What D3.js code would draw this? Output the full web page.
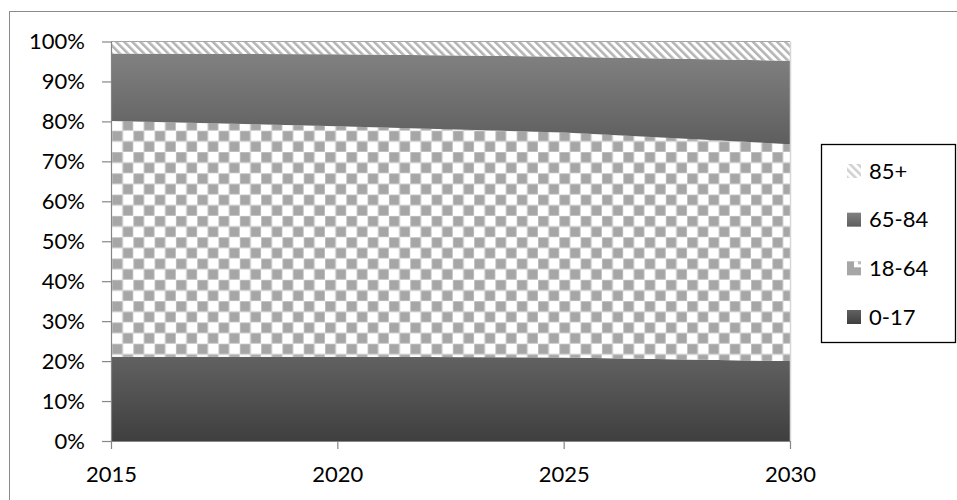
<!DOCTYPE html>
<html>
<head>
<meta charset="utf-8">
<script src="https://cdn.jsdelivr.net/npm/d3@7"></script>
<style>
  html, body { margin: 0; padding: 0; background: #fff; }
  svg { display: block; font-family: Lato, "Open Sans", sans-serif; }
</style>
</head>
<body>
<svg id="chart" width="957" height="500"></svg>
<script>
// ---- data (percent of population) ----
const years = [2015, 2020, 2025, 2030];
const age0_17  = [21.1, 21.1, 20.9, 20.0];
const age18_64 = [59.0, 57.7, 56.3, 54.3];
const age65_84 = [16.9, 18.0, 19.0, 20.9];
const age85    = [3.0, 3.2, 3.8, 4.8];
const seriesKeys = ["0-17", "18-64", "65-84", "85+"];
const yTicks = [0, 0.1, 0.2, 0.3, 0.4, 0.5, 0.6, 0.7, 0.8, 0.9, 1.0];
const legendOrder = ["85+", "65-84", "18-64", "0-17"];

const rows = years.map((y, i) => ({
  year: y,
  "0-17": age0_17[i], "18-64": age18_64[i], "65-84": age65_84[i], "85+": age85[i]
}));

const FONT = 22;
const svg = d3.select("#chart");
const defs = svg.append("defs");

// gradients
function vGrad(id, c1, c2) {
  const g = defs.append("linearGradient").attr("id", id)
    .attr("x1", 0).attr("y1", 0).attr("x2", 0).attr("y2", 1);
  g.append("stop").attr("offset", "0%").attr("stop-color", c1);
  g.append("stop").attr("offset", "100%").attr("stop-color", c2);
}
vGrad("g6584", "#818181", "#5e5e5e");
vGrad("g017", "#616161", "#3f3f3f");

// checker pattern
const cell = 10.65;
const chk = defs.append("pattern").attr("id", "checker")
  .attr("patternUnits", "userSpaceOnUse")
  .attr("width", cell * 2).attr("height", cell * 2)
  .attr("patternTransform", "translate(112,130.7)");
chk.append("rect").attr("width", cell * 2).attr("height", cell * 2).attr("fill", "#ffffff");
[[0, 0], [cell, cell]].forEach(([x, y]) => {
  chk.append("rect").attr("x", x).attr("y", y).attr("width", cell).attr("height", cell)
    .attr("fill", "#a6a6a6").attr("stroke", "#d2d2d2").attr("stroke-width", 1);
});

// hatch pattern
const hp = 5.7;
const hatch = defs.append("pattern").attr("id", "hatch")
  .attr("patternUnits", "userSpaceOnUse")
  .attr("width", hp).attr("height", hp)
  .attr("patternTransform", "rotate(-45)");
hatch.append("rect").attr("width", hp).attr("height", hp).attr("fill", "#ffffff");
hatch.append("rect").attr("x", 0).attr("width", hp * 0.45).attr("height", hp).attr("fill", "#b4b4b4");

const hatchL = defs.append("pattern").attr("id", "hatchL")
  .attr("patternUnits", "userSpaceOnUse")
  .attr("width", hp).attr("height", hp)
  .attr("patternTransform", "rotate(-45)");
hatchL.append("rect").attr("width", hp).attr("height", hp).attr("fill", "#ffffff");
hatchL.append("rect").attr("x", 0).attr("width", hp * 0.45).attr("height", hp).attr("fill", "#d0d0d0");

const fills = {
  "0-17": "url(#g017)",
  "18-64": "url(#checker)",
  "65-84": "url(#g6584)",
  "85+": "url(#hatch)"
};

// outer border
svg.append("rect").attr("x", 9.5).attr("y", 11.5).attr("width", 1000).attr("height", 600)
  .attr("fill", "none").attr("stroke", "#8a8a8a").attr("stroke-width", 1);

// scales
const x = d3.scaleLinear().domain([2015, 2030]).range([111, 790]);
const y = d3.scaleLinear().domain([0, 1]).range([441, 41.5]);

const stack = d3.stack().keys(seriesKeys).offset(d3.stackOffsetExpand);
const stacked = stack(rows);

const area = d3.area()
  .x(d => x(d.data.year))
  .y0(d => y(d[0]))
  .y1(d => y(d[1]));

svg.append("g").selectAll("path").data(stacked).join("path")
  .attr("d", area)
  .attr("fill", d => fills[d.key]);

// plot top and right edge lines
svg.append("line").attr("x1", 111).attr("x2", 790).attr("y1", 41.5).attr("y2", 41.5)
  .attr("stroke", "#a6a6a6").attr("stroke-width", 1);
svg.append("line").attr("x1", 790.5).attr("x2", 790.5).attr("y1", 41.5).attr("y2", 441)
  .attr("stroke", "#d6d6d6").attr("stroke-width", 1.5);

// axes
const yAxis = d3.axisLeft(y).tickValues(yTicks).tickFormat(d3.format(".0%"))
  .tickSize(9).tickPadding(17);
const gy = svg.append("g").attr("transform", "translate(111,0)").call(yAxis);
gy.select(".domain").attr("stroke", "#868686").attr("stroke-width", 1.2).attr("d", "M0.5,41.5V441");
gy.selectAll(".tick line").attr("stroke", "#868686").attr("stroke-width", 1.2);
gy.selectAll(".tick text").attr("fill", "#000").attr("font-size", FONT)
  .attr("font-family", "Lato, 'Open Sans', sans-serif");

const xAxis = d3.axisBottom(x).tickValues(years).tickFormat(d3.format("d"))
  .tickSize(8).tickPadding(17);
const gx = svg.append("g").attr("transform", "translate(0,441)").call(xAxis);
gx.select(".domain").attr("stroke", "#868686").attr("stroke-width", 1.2).attr("d", "M111,0.5H790");
gx.selectAll(".tick line").attr("stroke", "#868686").attr("stroke-width", 1.2);
gx.selectAll(".tick text").attr("fill", "#000").attr("font-size", FONT)
  .attr("font-family", "Lato, 'Open Sans', sans-serif");

// legend
const lg = svg.append("g");
lg.append("rect").attr("x", 821.5).attr("y", 144.5).attr("width", 134).attr("height", 198)
  .attr("fill", "#fff").attr("stroke", "#000").attr("stroke-width", 1.3);

const legY = d3.scalePoint().domain(legendOrder).range([171, 317]);
const legFill = {
  "85+": "url(#hatchL)",
  "65-84": "url(#g6584)",
  "18-64": "#a6a6a6",
  "0-17": "url(#g017)"
};
const items = lg.selectAll("g.item").data(legendOrder).join("g").attr("class", "item")
  .attr("transform", d => `translate(847,${legY(d)})`);
items.append("rect").attr("x", 0).attr("y", -7).attr("width", 14).attr("height", 14)
  .attr("fill", d => legFill[d]);
items.filter(d => d === "18-64").append("rect")
  .attr("x", 7).attr("y", -7).attr("width", 7).attr("height", 6).attr("fill", "#fff");
items.filter(d => d === "18-64").append("rect")
  .attr("x", 11).attr("y", -7).attr("width", 3).attr("height", 3).attr("fill", "#bdbdbd");
items.append("text").attr("x", 22).attr("y", 0).attr("dy", "0.35em")
  .attr("font-size", FONT).attr("fill", "#000").text(d => d);
</script>
</body>
</html>
